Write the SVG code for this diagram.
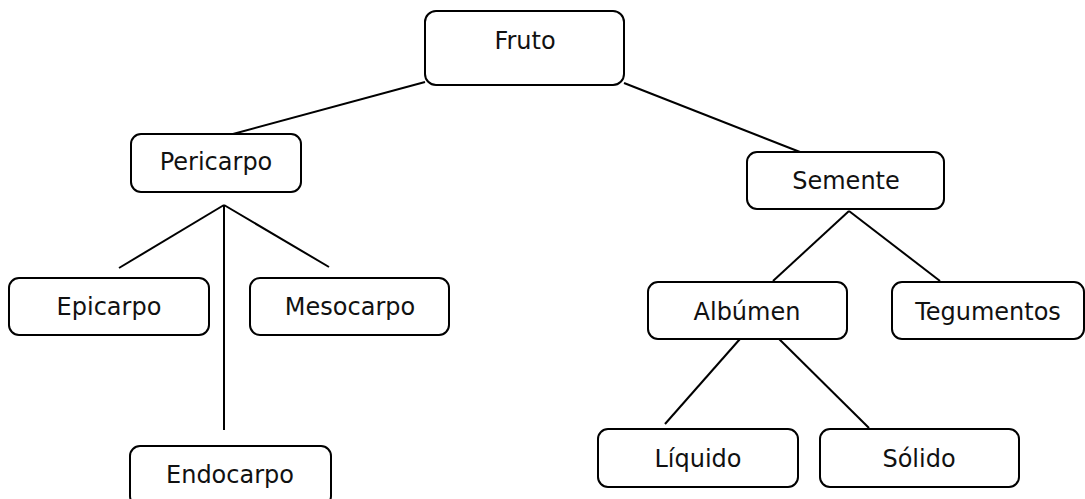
<svg xmlns="http://www.w3.org/2000/svg" width="1085" height="499" viewBox="0 0 1085 499">
<style>
.box{fill:#fff;stroke:#000;stroke-width:2}
.lbl{font-family:"DejaVu Sans",Verdana,sans-serif;font-size:24px;fill:#111;text-anchor:middle}
.ln{stroke:#000;stroke-width:2;fill:none}
</style>
<rect width="1085" height="499" fill="#fff"/>
<g id="connectors">
<line class="ln" x1="425" y1="82" x2="233" y2="134"/>
<line class="ln" x1="624" y1="83" x2="800" y2="152"/>
<line class="ln" x1="224" y1="205" x2="119" y2="268"/>
<line class="ln" x1="224" y1="205" x2="329" y2="267"/>
<line class="ln" x1="224" y1="205" x2="224" y2="430"/>
<line class="ln" x1="849" y1="211" x2="773" y2="281"/>
<line class="ln" x1="849" y1="211" x2="940" y2="281"/>
<line class="ln" x1="747" y1="331" x2="665" y2="424"/>
<line class="ln" x1="771" y1="331" x2="869" y2="428"/>
</g>
<g id="fruto"><rect class="box" x="425" y="11" width="199" height="74" rx="11"/><text class="lbl" x="525" y="49">Fruto</text></g>
<g id="pericarpo"><rect class="box" x="131" y="134" width="170" height="58" rx="10"/><text class="lbl" x="216" y="170">Pericarpo</text></g>
<g id="epicarpo"><rect class="box" x="9" y="278" width="200" height="57" rx="10"/><text class="lbl" x="109" y="315">Epicarpo</text></g>
<g id="mesocarpo"><rect class="box" x="250" y="278" width="199" height="57" rx="10"/><text class="lbl" x="350" y="315">Mesocarpo</text></g>
<g id="endocarpo"><rect class="box" x="130" y="446" width="201" height="60" rx="10"/><text class="lbl" x="230" y="483">Endocarpo</text></g>
<g id="semente"><rect class="box" x="747" y="152" width="197" height="57" rx="10"/><text class="lbl" x="846" y="189">Semente</text></g>
<g id="albumen"><rect class="box" x="648" y="282" width="199" height="57" rx="10"/><text class="lbl" x="747" y="320">Albúmen</text></g>
<g id="tegumentos"><rect class="box" x="892" y="282" width="192" height="57" rx="10"/><text class="lbl" x="988" y="320">Tegumentos</text></g>
<g id="liquido"><rect class="box" x="598" y="429" width="200" height="58" rx="10"/><text class="lbl" x="698" y="467">Líquido</text></g>
<g id="solido"><rect class="box" x="820" y="429" width="199" height="58" rx="10"/><text class="lbl" x="919" y="467">Sólido</text></g>
</svg>
